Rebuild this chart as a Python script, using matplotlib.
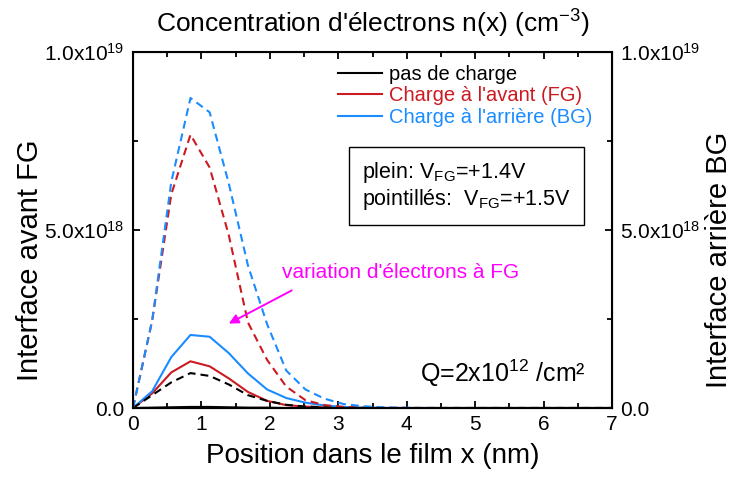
import numpy as np
import matplotlib
matplotlib.use('Agg')
import matplotlib.pyplot as plt
from matplotlib.ticker import MultipleLocator, FuncFormatter

plt.rcParams['font.family'] = ['Liberation Sans', 'DejaVu Sans']
plt.rcParams['mathtext.fontset'] = 'custom'
plt.rcParams['mathtext.rm'] = 'Liberation Sans'
plt.rcParams['mathtext.it'] = 'Liberation Sans:italic'
plt.rcParams['mathtext.default'] = 'regular'

# position dans le film (nm)
x = [0, 0.28, 0.56, 0.84, 1.12, 1.40, 1.68, 1.96, 2.24, 2.52, 2.80, 3.08, 3.36,
     3.64, 3.92, 4.20, 4.48, 4.76, 5.04, 5.32, 5.60, 5.88, 6.16, 6.44, 6.72, 7.00]

# concentrations en 1e18 cm-3
# traits pleins: VFG = +1.4V
none_solid = [0, 0.01, 0.02, 0.03, 0.03, 0.02, 0.01, 0.01, 0, 0, 0, 0, 0,
              0, 0, 0, 0, 0, 0, 0, 0, 0, 0, 0, 0, 0]
fg_solid = [0, 0.41, 1.0, 1.31, 1.17, 0.83, 0.45, 0.2, 0.08, 0.04, 0.02, 0.01, 0,
            0, 0, 0, 0, 0, 0, 0, 0, 0, 0, 0, 0, 0]
bg_solid = [0, 0.47, 1.43, 2.05, 2.0, 1.54, 0.97, 0.52, 0.28, 0.15, 0.07, 0.03, 0.01,
            0, 0, 0, 0, 0, 0, 0, 0, 0, 0, 0, 0, 0]
# pointilles: VFG = +1.5V
none_dash = [0, 0.36, 0.72, 0.98, 0.9, 0.66, 0.36, 0.2, 0.09, 0.04, 0.02, 0.01, 0,
             0, 0, 0, 0, 0, 0, 0, 0, 0, 0, 0, 0, 0]
fg_dash = [0, 2.45, 6.0, 7.67, 6.75, 4.85, 2.4, 1.35, 0.6, 0.22, 0.08, 0.03, 0.01,
           0, 0, 0, 0, 0, 0, 0, 0, 0, 0, 0, 0, 0]
bg_dash = [0, 2.45, 6.35, 8.7, 8.3, 6.3, 4.0, 2.35, 1.05, 0.52, 0.26, 0.11, 0.05,
           0.02, 0.01, 0, 0, 0, 0, 0, 0, 0, 0, 0, 0, 0]

labels = ['pas de charge', "Charge à l'avant (FG)", "Charge à l'arrière (BG)"]
colors = ['black', '#cc1a22', '#1a8cff']

W, H = 735, 478
scale = 1e18
fig = plt.figure(figsize=(W / 100, H / 100), dpi=100)
# axes: x 133..612 px, y 51.7..408 px
ax = fig.add_axes([133 / W, 1 - 408 / H, (612 - 133) / W, (408 - 51.7) / H])

dash = (0, (3.8, 2.4))
lines = []
for ys, c, lab in zip([none_solid, fg_solid, bg_solid], colors, labels):
    l, = ax.plot(x, np.array(ys) * scale, color=c, lw=1.5, label=lab)
    lines.append(l)
for ys, c in zip([none_dash, fg_dash, bg_dash], colors):
    ax.plot(x, np.array(ys) * scale, color=c, lw=1.5, linestyle=dash)

ax.set_xlim(0, 7)
ax.set_ylim(0, 1e19)

def yfmt(v, pos):
    if v <= 0:
        return '0.0'
    e = int(np.floor(np.log10(v)))
    return r'%.1fx10$^{%d}$' % (v / 10**e, e)

ax.xaxis.set_major_locator(MultipleLocator(1))
ax.xaxis.set_minor_locator(MultipleLocator(0.5))
ax.tick_params(which='both', direction='in', top=True, labelsize=15, width=1.3)
ax.tick_params(axis='x', pad=5)
ax.tick_params(axis='y', pad=6)
ax.tick_params(which='major', length=5)
ax.tick_params(which='minor', length=3.5)
for s in ax.spines.values():
    s.set_linewidth(1.5)

ax2 = ax.twinx()
ax2.set_ylim(0, 1e19)
for a in (ax, ax2):
    a.yaxis.set_major_locator(MultipleLocator(5e18))
    a.yaxis.set_minor_locator(MultipleLocator(2.5e18))
    a.yaxis.set_major_formatter(FuncFormatter(yfmt))
ax2.tick_params(which='both', direction='in', labelsize=15, width=1.3, pad=6)
ax2.tick_params(which='major', length=5)
ax2.tick_params(which='minor', length=3.5)

fig.text(372.5 / W, 1 - 33 / H, "Concentration d'électrons n(x) (cm$^{-3}$)",
         fontsize=19, ha='center', va='baseline')
fig.text(372.5 / W, 1 - 456 / H, 'Position dans le film x (nm)',
         fontsize=20, ha='center', va='center')
fig.text(30 / W, 1 - 260 / H, 'Interface avant FG', fontsize=21,
         rotation=90, ha='center', va='center')
fig.text(719 / W, 1 - 260 / H, 'Interface arrière BG', fontsize=21,
         rotation=90, ha='center', va='center')

leg = ax.legend(handles=lines, loc='upper left',
                bbox_to_anchor=((338 - 133) / 479, (408 - 65) / 356.3),
                frameon=False, fontsize=14.5, handlelength=2.2,
                labelspacing=0.12, handletextpad=0.35,
                borderpad=0, borderaxespad=0)
for t, c in zip(leg.get_texts(), colors):
    t.set_color(c)

ax.text((362 - 133) / 479, (408 - 186) / 356.3,
        'plein: V$_{FG}$=+1.4V\npointillés:  V$_{FG}$=+1.5V',
        transform=ax.transAxes, fontsize=15.5, linespacing=1.1, va='center',
        bbox=dict(boxstyle='square,pad=0.6', fc='white', ec='black', lw=1))

ax.text(2.18, 3.66e18, "variation d'électrons à FG", color='#ff00ff',
        fontsize=15, va='baseline')
ax.annotate('', xy=(1.40, 2.37e18), xytext=(2.32, 3.3e18),
            arrowprops=dict(arrowstyle='-|>', color='#ff00ff', lw=1.4,
                            shrinkA=0, shrinkB=0, mutation_scale=14))

ax.text(4.2, 0.73e18, 'Q=2x10$^{12}$ /cm²', fontsize=18, va='baseline')

fig.savefig('out.png', dpi=100)
